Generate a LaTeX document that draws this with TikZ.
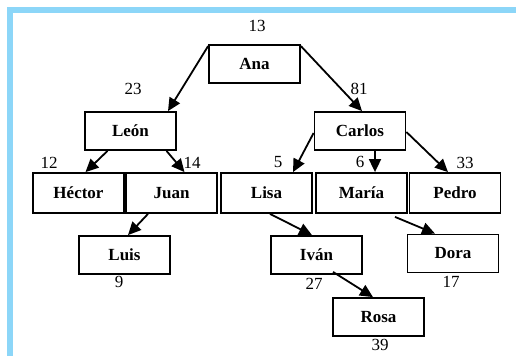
\documentclass[tikz,border=0pt]{standalone}
\usepackage{fontspec}
\setmainfont{Liberation Serif}
\usetikzlibrary{arrows.meta}
\definecolor{frameblue}{RGB}{140,214,248}
\begin{document}
\begin{tikzpicture}[x=1pt,y=-1pt,
  person/.style={draw,line width=1.8pt,minimum width=91pt,minimum height=38pt,inner sep=0pt,font=\fontsize{17}{20}\selectfont\bfseries},
  num/.style={inner sep=0pt,font=\fontsize{17}{20}\selectfont},
  link/.style={line width=1.8pt,-{Triangle[length=13pt,width=12pt]}}]
\useasboundingbox (0,0) rectangle (516,356);
\fill[frameblue] (7,7) rectangle (516,12.5);
\fill[frameblue] (7,7) rectangle (13,356);
% nodes
\node[person] (ana) at (254.5,64) {Ana};
\node[person] (leon) at (130.5,131) {León};
\node[person] (carlos) at (360,131) {Carlos};
\node[person,minimum height=40pt] (hector) at (78.5,193) {Héctor};
\node[person,minimum height=40pt] (juan) at (171.5,193) {Juan};
\node[person,minimum height=40pt] (lisa) at (266.5,193) {Lisa};
\node[person,minimum height=40pt] (maria) at (361.5,193) {María};
\node[person,minimum height=40pt] (pedro) at (455,193) {Pedro};
\node[person] (luis) at (124.5,255) {Luis};
\node[person] (ivan) at (316.5,255) {Iván};
\node[person] (dora) at (453,253.5) {Dora};
\node[person] (rosa) at (378.5,317) {Rosa};
% numbers
\node[num] (n13) at (257,26) {13};
\node[num] (n23) at (133,89) {23};
\node[num] (n81) at (359,89) {81};
\node[num] (n12) at (49,163) {12};
\node[num] (n14) at (192,163) {14};
\node[num] (n5) at (278,162) {5};
\node[num] (n6) at (360,162) {6};
\node[num] (n33) at (465,163) {33};
\node[num] (n9) at (119,282) {9};
\node[num] (n27) at (314,284) {27};
\node[num] (n17) at (451,282) {17};
\node[num] (n39) at (380,345) {39};
% links
\draw[link] ([yshift=-2pt]ana.north west) -- ([xshift=37.5pt]leon.north);
\draw[link] ([yshift=-2pt]ana.north east) -- ([xshift=2pt]carlos.north);
\draw[link] ([xshift=-23pt]leon.south) -- ([xshift=7pt]hector.north);
\draw[link] ([xshift=36pt]leon.south) -- ([xshift=13pt]juan.north);
\draw[link] ([yshift=-2pt]carlos.west) -- ([xshift=26.5pt]lisa.north);
\draw[link] ([xshift=15pt]carlos.south) -- ([xshift=13.5pt]maria.north);
\draw[link] ([yshift=-1pt]carlos.east) -- ([xshift=-7pt]pedro.north);
\draw[link] ([xshift=-23.5pt]juan.south) -- ([xshift=3.5pt]luis.north);
\draw[link] ([xshift=3.5pt]lisa.south) -- ([xshift=-4.5pt]ivan.north);
\draw[link] ([xshift=33.5pt,yshift=-3pt]maria.south) -- ([xshift=-18pt]dora.north);
\draw[link] ([xshift=16.5pt,yshift=3pt]ivan.south) -- ([xshift=-5.5pt]rosa.north);
\end{tikzpicture}
\end{document}
